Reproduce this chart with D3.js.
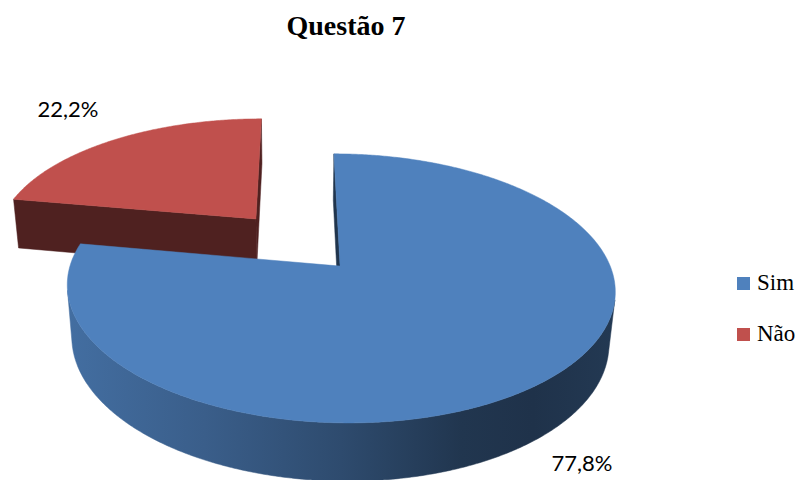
<!DOCTYPE html>
<html>
<head>
<meta charset="utf-8">
<script src="https://cdn.jsdelivr.net/npm/d3@7"></script>
<style>
  body { margin: 0; background: #fff; }
  svg { display: block; }
</style>
</head>
<body>
<svg id="chart" width="802" height="480"></svg>
<script>
// ---- data ----
const chartTitle = "Questão 7";
const categories = ["Sim", "Não"];
const values = [77.8, 22.2];
const valueLabels = ["77,8%", "22,2%"];
const sliceColors = ["#4F81BD", "#C0504D"];

// ---- 3D view setup ----
const svg = d3.select("#chart");
const tilt = 28 * Math.PI / 180;
const sinT = Math.sin(tilt), cosT = Math.cos(tilt);
const camDist = 5.5;      // camera distance in pie radii
const focal = 1440;       // projection scale in px
const originX = 296.7, originY = 241.8;
const thickness = 0.2236; // pie height in radii
const explode = 0.25;     // slice offset from the centre
const camera = [0, camDist * sinT, camDist * cosT];

// world (X right, Y up, Z toward viewer) -> screen
function project(X, Y, Z) {
  const depth = camDist - Y * sinT - Z * cosT;
  return [originX + focal * X / depth, originY + focal * (Z * sinT - Y * cosT) / depth];
}

const pie = d3.pie().sort(null).value(d => d).startAngle(0).endAngle(2 * Math.PI);
const arcs = pie(values).map((d, i) => {
  const mid = (d.startAngle + d.endAngle) / 2;
  return {
    ...d, i, mid,
    ox: explode * Math.sin(mid),
    oz: -explode * Math.cos(mid)
  };
});

const shade = (c, t) => d3.interpolateRgb(c, "#000")(t);
const line = d3.line();
const defs = svg.append("defs");

function pt(s, a, r, Y) {
  return project(s.ox + r * Math.sin(a), Y, s.oz - r * Math.cos(a));
}
function facing(normal, P) {
  const v = [camera[0] - P[0], camera[1] - P[1], camera[2] - P[2]];
  return normal[0] * v[0] + normal[1] * v[1] + normal[2] * v[2] > 0;
}

const gPie = svg.append("g");
// paint far slices first
const order = arcs.slice().sort((a, b) => a.oz - b.oz);

order.forEach(s => {
  const g = gPie.append("g");
  const base = sliceColors[s.i];
  const top = 0, bottom = -thickness;
  const apex = [s.ox, 0, s.oz];

  // radial faces
  const faces = [
    { a: s.startAngle, n: [-Math.cos(s.startAngle), 0, -Math.sin(s.startAngle)] },
    { a: s.endAngle,   n: [ Math.cos(s.endAngle),   0,  Math.sin(s.endAngle)] }
  ];
  faces.forEach(f => {
    if (!facing(f.n, apex)) return;
    const poly = [
      project(s.ox, top, s.oz),
      pt(s, f.a, 1, top),
      pt(s, f.a, 1, bottom),
      project(s.ox, bottom, s.oz)
    ];
    g.append("path").attr("d", line(poly) + "Z")
      .attr("fill", shade(base, 0.59)).attr("stroke", shade(base, 0.59)).attr("stroke-width", 0.5);
  });

  // outer curved surface: collect visible runs
  const steps = Math.max(2, Math.ceil((s.endAngle - s.startAngle) / (Math.PI / 360)));
  const da = (s.endAngle - s.startAngle) / steps;
  const runs = [];
  let cur = null;
  for (let k = 0; k < steps; k++) {
    const a = s.startAngle + (k + 0.5) * da;
    const P = [s.ox + Math.sin(a), -thickness / 2, s.oz - Math.cos(a)];
    const vis = facing([Math.sin(a), 0, -Math.cos(a)], P);
    if (vis) {
      if (!cur) { cur = [s.startAngle + k * da]; runs.push(cur); }
      cur.push(s.startAngle + (k + 1) * da);
    } else cur = null;
  }
  runs.forEach((run, ri) => {
    const topPts = run.map(a => pt(s, a, 1, top));
    const botPts = run.slice().reverse().map(a => pt(s, a, 1, bottom));
    const all = topPts.concat(botPts);
    const xs = all.map(p => p[0]);
    const gid = `side-${s.i}-${ri}`;
    const grad = defs.append("linearGradient").attr("id", gid)
      .attr("gradientUnits", "userSpaceOnUse")
      .attr("x1", d3.min(xs)).attr("x2", d3.max(xs)).attr("y1", 0).attr("y2", 0);
    [[0, 0.15], [0.25, 0.27], [0.5, 0.42], [0.72, 0.58], [0.85, 0.61], [1, 0.56]]
      .forEach(([o, t]) => grad.append("stop").attr("offset", o).attr("stop-color", shade(base, t)));
    g.append("path").attr("d", line(all) + "Z")
      .attr("fill", `url(#${gid})`).attr("stroke", `url(#${gid})`).attr("stroke-width", 0.5);
  });

  // top face
  const topPts = [project(s.ox, top, s.oz)];
  for (let k = 0; k <= steps; k++) topPts.push(pt(s, s.startAngle + k * da, 1, top));
  g.append("path").attr("d", line(topPts) + "Z")
    .attr("fill", base).attr("stroke", base).attr("stroke-width", 0.5).attr("stroke-linejoin", "round");
});

// value labels, outside the slice edge
arcs.forEach(s => {
  const front = Math.cos(s.mid) < 0;
  const p = front ? pt(s, s.mid, 1.18, -thickness) : pt(s, s.mid, 1.38, 0.025);
  svg.append("text")
    .attr("x", p[0]).attr("y", p[1])
    .attr("text-anchor", "middle").attr("dominant-baseline", "central")
    .attr("font-family", "Lato, 'Open Sans', sans-serif").attr("font-size", 22)
    .attr("fill", "#000")
    .text(valueLabels[s.i]);
});

// title
svg.append("text")
  .attr("x", 346).attr("y", 35)
  .attr("text-anchor", "middle")
  .attr("font-family", "'Liberation Serif', 'Times New Roman', serif")
  .attr("font-weight", "bold").attr("font-size", 28)
  .text(chartTitle);

// legend
const legend = svg.append("g").attr("transform", "translate(737,277)");
const item = legend.selectAll("g").data(categories).join("g")
  .attr("transform", (d, i) => `translate(0,${i * 51})`);
item.append("rect").attr("width", 13).attr("height", 13)
  .attr("fill", (d, i) => sliceColors[i]);
item.append("text").attr("x", 20).attr("y", 13)
  .attr("font-family", "'Liberation Serif', 'Times New Roman', serif")
  .attr("font-size", 23).attr("fill", "#000")
  .text(d => d);
</script>
</body>
</html>
